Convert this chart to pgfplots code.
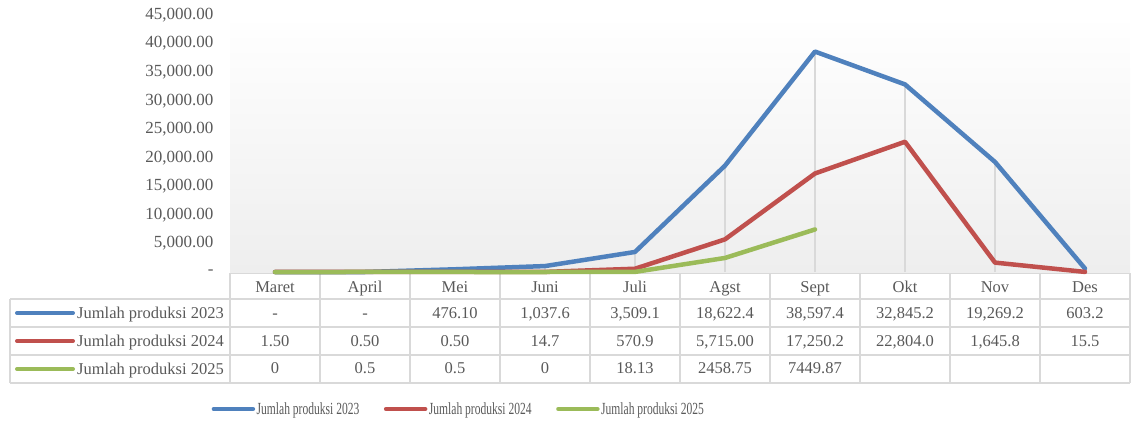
\documentclass[border=0pt]{standalone}
\usepackage{fontspec}
\setmainfont{Liberation Serif}
\newfontfamily\legfont{Liberation Serif}[FakeStretch=0.68]
\usepackage{pgfplots}
\usepackage{pgfplotstable}
\pgfplotsset{compat=1.18}
\definecolor{s23}{HTML}{4F81BD}
\definecolor{s24}{HTML}{C0504D}
\definecolor{s25}{HTML}{9BBB59}
\definecolor{txt}{HTML}{595959}
\definecolor{gridc}{HTML}{D9D9D9}
\definecolor{bgbot}{HTML}{EEEEEE}

\pgfplotstableread{
x y23 y24 mx
0 0 1.5 1.5
1 0 0.5 0.5
2 476.1 0.5 476.1
3 1037.6 14.7 1037.6
4 3509.1 570.9 3509.1
5 18622.4 5715.0 18622.4
6 38597.4 17250.2 38597.4
7 32845.2 22804.0 32845.2
8 19269.2 1645.8 19269.2
9 603.2 15.5 603.2
}\datatab
\pgfplotstableread{
x y
0 0
1 0.5
2 0.5
3 0
4 18.13
5 2458.75
6 7449.87
}\datb

\begin{document}
\begin{tikzpicture}
\useasboundingbox (0pt,0pt) rectangle (1136pt,-425pt);
\begin{scope}[x=1pt,y=-1pt]
% table grid
\draw[gridc, line width=2pt] (230,273) -- (1130,273);
\foreach \yy in {299,327,355,383} \draw[gridc, line width=2pt] (10,\yy) -- (1130,\yy);
\draw[gridc, line width=2pt] (10,299) -- (10,383);
\foreach \i in {0,...,10} \draw[gridc, line width=2pt] ({230+90*\i},273) -- ({230+90*\i},383);
\end{scope}
\begin{axis}[
  at={(230pt,-272pt)}, anchor=south west,
  scale only axis, width=900pt, height=257pt,
  xmin=-0.5, xmax=9.5, ymin=0, ymax=45000,
  scaled y ticks=false,
  ytick={0,5000,10000,15000,20000,25000,30000,35000,40000,45000},
  yticklabels={{-\hspace{9pt}},{5,000.00},{10,000.00},{15,000.00},{20,000.00},{25,000.00},{30,000.00},{35,000.00},{40,000.00},{45,000.00}},
  xtick=\empty,
  axis line style={draw=none},
  major tick length=0pt,
  tick label style={font=\fontsize{17}{17}\selectfont, text=txt},
  yticklabel style={xshift=-13pt},
  axis background/.style={top color=white, bottom color=bgbot},
  clip=false,
  legend columns=3,
  legend cell align=left,
  legend image code/.code={\draw[#1, line cap=round] (0pt,0pt) -- (39pt,0pt);},
  legend style={at={(rel axis cs:-0.0206,-0.533)}, anchor=west, draw=none, fill=none,
    inner sep=0pt, font=\legfont\fontsize{17}{17}\selectfont, text=txt,
    nodes={inner xsep=1.5pt, inner ysep=2pt},
    /tikz/every even column/.append style={column sep=23pt}},
]
\addplot[ycomb, gridc, line width=2pt, no marks, forget plot] table[x=x,y=mx]{\datatab};
\addplot[s23, line width=4.5pt, line join=round, line cap=round, no marks] table[x=x,y=y23]{\datatab};
\addlegendentry{Jumlah produksi 2023}
\addplot[s24, line width=4.5pt, line join=round, line cap=round, no marks] table[x=x,y=y24]{\datatab};
\addlegendentry{Jumlah produksi 2024}
\addplot[s25, line width=4.5pt, line join=round, line cap=round, no marks] table[x=x,y=y]{\datb};
\addlegendentry{Jumlah produksi 2025}
\end{axis}
\begin{scope}[x=1pt,y=-1pt]
% header
\foreach \m [count=\i from 0] in {Maret,April,Mei,Juni,Juli,Agst,Sept,Okt,Nov,Des}
  \node[anchor=base, inner sep=0pt, text=txt, font=\fontsize{16.5}{16.5}\selectfont] at ({275+90*\i},292) {\m};
% row labels
\foreach \c/\lab/\yy in {s23/2023/313, s24/2024/341, s25/2025/369} {
  \draw[\c, line width=4pt, line cap=round] (17,\yy) -- (73,\yy);
  \node[anchor=base west, inner sep=0pt, text=txt, font=\fontsize{16.5}{16.5}\selectfont] at (77,\yy+5) {Jumlah produksi \lab};
}
\foreach \v [count=\i from 0] in {{-},{-},{476.10},{1,037.6},{3,509.1},{18,622.4},{38,597.4},{32,845.2},{19,269.2},{603.2}}
  \node[anchor=base, inner sep=0pt, text=txt, font=\fontsize{16.5}{16.5}\selectfont] at ({275+90*\i},318) {\v};
\foreach \v [count=\i from 0] in {{1.50},{0.50},{0.50},{14.7},{570.9},{5,715.00},{17,250.2},{22,804.0},{1,645.8},{15.5}}
  \node[anchor=base, inner sep=0pt, text=txt, font=\fontsize{16.5}{16.5}\selectfont] at ({275+90*\i},346) {\v};
\foreach \v [count=\i from 0] in {{0},{0.5},{0.5},{0},{18.13},{2458.75},{7449.87}}
  \node[anchor=base, inner sep=0pt, text=txt, font=\fontsize{16.5}{16.5}\selectfont] at ({275+90*\i},373) {\v};
\end{scope}
\end{tikzpicture}
\end{document}
